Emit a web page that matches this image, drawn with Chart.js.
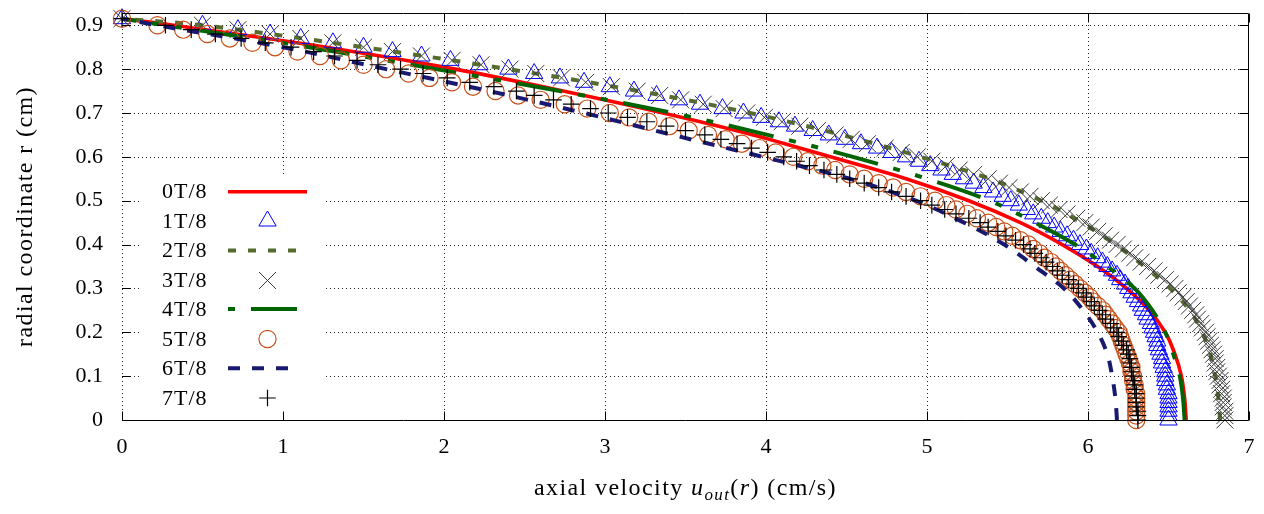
<!DOCTYPE html>
<html>
<head>
<meta charset="utf-8">
<script src="https://cdn.jsdelivr.net/npm/chart.js@4/dist/chart.umd.min.js"></script>
<style>
  html, body { margin: 0; padding: 0; background: #fff; }
  #wrap { width: 1264px; height: 514px; }
</style>
</head>
<body>
<div id="wrap"><canvas id="c" width="1264" height="514"></canvas></div>
<script>
// Phase labels of the eight profiles
const phaseLabels = ['0T/8', '1T/8', '2T/8', '3T/8', '4T/8', '5T/8', '6T/8', '7T/8'];

// Radial positions (cm): fine grid for the marker profiles, coarse grid for the line profiles
const rFine = [0.00, 0.01, 0.02, 0.03, 0.04, 0.05, 0.06, 0.07, 0.08, 0.09,
  0.10, 0.11, 0.12, 0.13, 0.14, 0.15, 0.16, 0.17, 0.18, 0.19,
  0.20, 0.21, 0.22, 0.23, 0.24, 0.25, 0.26, 0.27, 0.28, 0.29,
  0.30, 0.31, 0.32, 0.33, 0.34, 0.35, 0.36, 0.37, 0.38, 0.39,
  0.40, 0.41, 0.42, 0.43, 0.44, 0.45, 0.46, 0.47, 0.48, 0.49,
  0.50, 0.51, 0.52, 0.53, 0.54, 0.55, 0.56, 0.57, 0.58, 0.59,
  0.60, 0.61, 0.62, 0.63, 0.64, 0.65, 0.66, 0.67, 0.68, 0.69,
  0.70, 0.71, 0.72, 0.73, 0.74, 0.75, 0.76, 0.77, 0.78, 0.79,
  0.80, 0.81, 0.82, 0.83, 0.84, 0.85, 0.86, 0.87, 0.88, 0.89,
  0.90, 0.915];
const rCoarse = [0.00, 0.05, 0.10, 0.15, 0.20, 0.25, 0.30, 0.35, 0.40, 0.45,
  0.50, 0.55, 0.60, 0.65, 0.70, 0.75, 0.80, 0.85, 0.90, 0.915];

// Axial velocity u_out(r) in cm/s
const u0T8 = [6.61, 6.60, 6.58, 6.54, 6.48, 6.38, 6.24, 6.06, 5.84, 5.58,
  5.26, 4.87, 4.40, 3.92, 3.36, 2.74, 2.07, 1.27, 0.32, 0];
const u2T8 = [6.82, 6.81, 6.79, 6.76, 6.71, 6.63, 6.51, 6.35, 6.17, 5.96,
  5.71, 5.39, 4.96, 4.47, 3.90, 3.21, 2.40, 1.50, 0.50, 0];
const u4T8 = [6.60, 6.59, 6.57, 6.53, 6.48, 6.40, 6.29, 6.12, 5.92, 5.67,
  5.39, 5.00, 4.54, 4.01, 3.42, 2.72, 1.95, 1.16, 0.27, 0];
const u6T8 = [6.18, 6.17, 6.15, 6.12, 6.06, 5.97, 5.85, 5.67, 5.48, 5.23,
  4.93, 4.52, 3.98, 3.42, 2.87, 2.28, 1.64, 1.00, 0.22, 0];

const u1T8 = [6.50, 6.50, 6.50, 6.50, 6.50, 6.50,
  6.50, 6.49, 6.49, 6.48, 6.48,
  6.48, 6.47, 6.46, 6.46, 6.45,
  6.44, 6.43, 6.43, 6.42, 6.41,
  6.40, 6.39, 6.37, 6.36, 6.34,
  6.33, 6.31, 6.29, 6.27, 6.25,
  6.23, 6.20, 6.18, 6.15, 6.12,
  6.09, 6.06, 6.02, 5.99, 5.95,
  5.91, 5.87, 5.83, 5.79, 5.75,
  5.71, 5.66, 5.62, 5.57, 5.52,
  5.47, 5.41, 5.35, 5.29, 5.23,
  5.16, 5.09, 5.02, 4.95, 4.87,
  4.78, 4.69, 4.59, 4.49, 4.39,
  4.29, 4.18, 4.08, 3.97, 3.86,
  3.73, 3.59, 3.46, 3.32, 3.18,
  3.03, 2.87, 2.72, 2.56, 2.40,
  2.22, 2.04, 1.86, 1.68, 1.50,
  1.31, 1.11, 0.92, 0.72, 0.50,
  0];
const u3T8 = [6.85, 6.85, 6.85, 6.84, 6.84, 6.84,
  6.83, 6.83, 6.82, 6.82, 6.81,
  6.80, 6.80, 6.79, 6.79, 6.78,
  6.77, 6.76, 6.75, 6.74, 6.73,
  6.71, 6.70, 6.68, 6.67, 6.65,
  6.63, 6.61, 6.59, 6.56, 6.54,
  6.51, 6.48, 6.44, 6.41, 6.37,
  6.33, 6.29, 6.26, 6.22, 6.18,
  6.14, 6.10, 6.06, 6.02, 5.98,
  5.93, 5.87, 5.82, 5.76, 5.71,
  5.64, 5.58, 5.51, 5.45, 5.38,
  5.29, 5.20, 5.12, 5.03, 4.94,
  4.84, 4.74, 4.63, 4.53, 4.43,
  4.32, 4.21, 4.10, 3.99, 3.88,
  3.74, 3.61, 3.47, 3.34, 3.20,
  3.04, 2.88, 2.73, 2.57, 2.41,
  2.23, 2.05, 1.86, 1.68, 1.50,
  1.31, 1.11, 0.92, 0.72, 0.50,
  0];
const u5T8 = [6.30, 6.30, 6.30, 6.30, 6.30, 6.30,
  6.30, 6.29, 6.29, 6.28, 6.28,
  6.27, 6.27, 6.26, 6.25, 6.24,
  6.23, 6.22, 6.21, 6.20, 6.19,
  6.17, 6.15, 6.13, 6.11, 6.09,
  6.06, 6.03, 6.01, 5.98, 5.95,
  5.92, 5.89, 5.86, 5.83, 5.80,
  5.77, 5.73, 5.70, 5.66, 5.63,
  5.58, 5.53, 5.48, 5.43, 5.38,
  5.31, 5.25, 5.18, 5.12, 5.05,
  4.96, 4.87, 4.79, 4.70, 4.61,
  4.52, 4.43, 4.35, 4.26, 4.17,
  4.06, 3.96, 3.85, 3.75, 3.64,
  3.52, 3.40, 3.27, 3.15, 3.03,
  2.89, 2.75, 2.60, 2.46, 2.32,
  2.18, 2.05, 1.91, 1.78, 1.64,
  1.50, 1.36, 1.23, 1.09, 0.95,
  0.81, 0.67, 0.53, 0.38, 0.22,
  0];
const u7T8 = [6.31, 6.31, 6.31, 6.30, 6.30, 6.30,
  6.30, 6.29, 6.29, 6.28, 6.28,
  6.27, 6.27, 6.26, 6.26, 6.25,
  6.24, 6.22, 6.21, 6.19, 6.18,
  6.16, 6.14, 6.11, 6.09, 6.07,
  6.04, 6.02, 5.99, 5.97, 5.94,
  5.91, 5.88, 5.84, 5.81, 5.78,
  5.74, 5.71, 5.67, 5.64, 5.60,
  5.55, 5.49, 5.44, 5.38, 5.33,
  5.26, 5.18, 5.11, 5.03, 4.96,
  4.87, 4.78, 4.70, 4.61, 4.52,
  4.44, 4.36, 4.27, 4.19, 4.11,
  4.01, 3.91, 3.82, 3.72, 3.62,
  3.50, 3.38, 3.26, 3.14, 3.02,
  2.91, 2.79, 2.68, 2.56, 2.45,
  2.31, 2.16, 2.02, 1.87, 1.73,
  1.59, 1.46, 1.32, 1.19, 1.05,
  0.89, 0.74, 0.58, 0.43, 0.27,
  0];

// Axis ticks
const xTicks = [0, 1, 2, 3, 4, 5, 6, 7];
const xTickLabels = ['0', '1', '2', '3', '4', '5', '6', '7'];
const yTicks = [0, 0.1, 0.2, 0.3, 0.4, 0.5, 0.6, 0.7, 0.8, 0.9];
const yTickLabels = ['0', '0.1', '0.2', '0.3', '0.4', '0.5', '0.6', '0.7', '0.8', '0.9'];

const SERIF = "'Liberation Serif', 'Times New Roman', serif";

function pairs(us, rs) { return us.map((u, i) => ({ x: u, y: rs[i] })); }

// Appearance of each profile (line or marker)
const styles = [
  { kind: 'line', color: '#ff0000', width: 3.6, dash: [] },
  { kind: 'point', color: '#0000ff', pointStyle: 'triangle', radius: 10, width: 1 },
  { kind: 'line', color: '#556b2f', width: 4, dash: [8, 12] },
  { kind: 'point', color: '#3a3a3a', pointStyle: 'crossRot', radius: 12, width: 1 },
  { kind: 'line', color: '#006400', width: 4, dash: [46, 16, 7, 16, 7, 16], legendOffset: 85 },
  { kind: 'point', color: '#c8501a', pointStyle: 'circle', radius: 8.6, width: 1.2 },
  { kind: 'line', color: '#191970', width: 4, dash: [12, 12], legendEnd: 299 },
  { kind: 'point', color: '#000000', pointStyle: 'cross', radius: 8.3, width: 1.2 }
];

const profiles = [
  pairs(u0T8, rCoarse), pairs(u1T8, rFine), pairs(u2T8, rCoarse), pairs(u3T8, rFine),
  pairs(u4T8, rCoarse), pairs(u5T8, rFine), pairs(u6T8, rCoarse), pairs(u7T8, rFine)
];

const datasets = profiles.map((pts, i) => {
  const s = styles[i];
  const base = { label: phaseLabels[i], data: pts, clip: false, order: 8 - i };
  if (s.kind === 'line') {
    return Object.assign(base, {
      showLine: true, borderColor: s.color, borderWidth: s.width, borderDash: s.dash,
      tension: 0.35, pointRadius: 0, pointHoverRadius: 0, fill: false
    });
  }
  return Object.assign(base, {
    showLine: false, pointStyle: s.pointStyle, pointRadius: s.radius, pointHoverRadius: s.radius,
    pointBorderColor: s.color, pointBackgroundColor: 'rgba(0,0,0,0)', pointBorderWidth: s.width
  });
});

// Dotted grid behind the profiles
const gridPlugin = {
  id: 'dottedGrid',
  beforeDatasetsDraw(chart) {
    const { ctx, chartArea: a, scales: { x, y } } = chart;
    ctx.save();
    ctx.strokeStyle = 'rgba(0,0,0,0.85)';
    ctx.lineWidth = 1;
    ctx.setLineDash([1, 3]);
    xTicks.forEach(v => {
      if (v >= x.max) return;
      const px = Math.round(x.getPixelForValue(v)) + 0.5;
      ctx.beginPath(); ctx.moveTo(px, a.top); ctx.lineTo(px, a.bottom); ctx.stroke();
    });
    yTicks.forEach(v => {
      if (v <= y.min) return;
      const py = Math.round(y.getPixelForValue(v)) + 0.5;
      ctx.beginPath(); ctx.moveTo(a.left, py); ctx.lineTo(a.right, py); ctx.stroke();
    });
    ctx.restore();
  }
};

function markerAt(ctx, s, x, y) {
  ctx.save();
  ctx.strokeStyle = s.color;
  ctx.fillStyle = 'rgba(0,0,0,0)';
  ctx.lineWidth = s.width;
  if (Chart.helpers && Chart.helpers.drawPoint) {
    Chart.helpers.drawPoint(ctx, { pointStyle: s.pointStyle, radius: s.radius, borderWidth: s.width, rotation: 0 }, x, y);
  }
  ctx.restore();
}

function drawRuns(ctx, runs, cx, baseline) {
  let total = 0;
  runs.forEach(r => { ctx.font = r.font; r.w = ctx.measureText(r.t).width; total += r.w; });
  let x = cx - total / 2;
  runs.forEach(r => { ctx.font = r.font; ctx.fillText(r.t, x, baseline + (r.dy || 0)); x += r.w; });
}

// Key, border, inward ticks and axis titles
const framePlugin = {
  id: 'frameAndKey',
  afterDatasetsDraw(chart) {
    const { ctx, chartArea: a, scales: { x, y } } = chart;
    ctx.save();
    if ('letterSpacing' in ctx) ctx.letterSpacing = '1px';

    // key box
    ctx.fillStyle = '#ffffff';
    ctx.fillRect(140, 177, 183, 236);
    const rows = [191.7, 221, 250.5, 280.5, 309, 339, 368.3, 398];
    ctx.fillStyle = '#000';
    ctx.textAlign = 'left';
    ctx.textBaseline = 'middle';
    ctx.font = '22px ' + SERIF;
    phaseLabels.forEach((lab, i) => {
      const yy = rows[i];
      ctx.fillText(lab, 162, yy + 1);
      const s = styles[i];
      if (s.kind === 'line') {
        ctx.save();
        ctx.strokeStyle = s.color;
        ctx.lineWidth = s.width;
        ctx.setLineDash(s.dash);
        ctx.lineDashOffset = s.legendOffset || 0;
        ctx.beginPath();
        ctx.moveTo(228, yy);
        ctx.lineTo(s.legendEnd || 307, yy);
        ctx.stroke();
        ctx.restore();
      } else {
        markerAt(ctx, s, 267.5, yy);
      }
    });

    // border (top, right, bottom)
    ctx.strokeStyle = '#000';
    ctx.lineWidth = 1;
    ctx.setLineDash([]);
    const L = a.left, R = Math.round(a.right) - 0.5, T = Math.round(a.top) + 0.5, B = Math.round(a.bottom) + 0.5;
    ctx.beginPath();
    ctx.moveTo(L, T); ctx.lineTo(R, T); ctx.lineTo(R, B); ctx.lineTo(L, B);
    ctx.stroke();

    // inward tick marks on all sides
    const tick = 9;
    ctx.beginPath();
    xTicks.forEach(v => {
      const px = Math.round(x.getPixelForValue(v)) + 0.5;
      ctx.moveTo(px, B); ctx.lineTo(px, B - tick);
      ctx.moveTo(px, T); ctx.lineTo(px, T + tick);
    });
    yTicks.forEach(v => {
      const py = Math.round(y.getPixelForValue(v)) + 0.5;
      ctx.moveTo(L, py); ctx.lineTo(L + tick, py);
      ctx.moveTo(R, py); ctx.lineTo(R - tick, py);
    });
    ctx.stroke();

    // axis titles
    ctx.fillStyle = '#000';
    ctx.textBaseline = 'alphabetic';
    ctx.textAlign = 'left';
    if ('letterSpacing' in ctx) ctx.letterSpacing = '1.4px';
    const N = '24px ' + SERIF, I = 'italic 24px ' + SERIF, S = 'italic 17px ' + SERIF;
    drawRuns(ctx, [
      { t: 'axial velocity ', font: N },
      { t: 'u', font: I },
      { t: 'out', font: S, dy: 5 },
      { t: '(', font: N },
      { t: 'r', font: I },
      { t: ')', font: N },
      { t: ' (cm/s)', font: N }
    ], (a.left + a.right) / 2, 495);

    ctx.save();
    ctx.translate(26, (a.top + a.bottom) / 2);
    ctx.rotate(-Math.PI / 2);
    ctx.textAlign = 'center';
    ctx.textBaseline = 'middle';
    ctx.font = N;
    ctx.fillText('radial coordinate r (cm)', 0, 0);
    ctx.restore();

    ctx.restore();
  }
};

new Chart(document.getElementById('c'), {
  type: 'scatter',
  data: { datasets },
  options: {
    responsive: false,
    animation: false,
    events: [],
    devicePixelRatio: 1,
    layout: { padding: { top: 10, right: 15, bottom: 0, left: 0 } },
    plugins: { legend: { display: false }, tooltip: { enabled: false }, title: { display: false } },
    scales: {
      x: {
        type: 'linear', position: 'bottom', min: 0, max: 7,
        afterBuildTicks: s => { s.ticks = xTicks.map(v => ({ value: v })); },
        afterFit: s => { s.height = 94; s.paddingLeft = 0; s.paddingRight = 0; },
        grid: { display: false, drawTicks: false },
        border: { display: false },
        ticks: {
          color: '#000', padding: 14, maxRotation: 0, minRotation: 0, autoSkip: false,
          font: { family: SERIF, size: 22 },
          callback: (v, i) => xTickLabels[i]
        }
      },
      y: {
        type: 'linear', position: 'left', min: 0, max: 0.928,
        afterBuildTicks: s => { s.ticks = yTicks.map(v => ({ value: v })); },
        afterFit: s => { s.width = 122; s.paddingTop = 0; s.paddingBottom = 0; },
        grid: { display: false, drawTicks: false },
        border: { display: false },
        ticks: {
          color: '#000', padding: 19, autoSkip: false,
          font: { family: SERIF, size: 22 },
          callback: (v, i) => yTickLabels[i]
        }
      }
    }
  },
  plugins: [gridPlugin, framePlugin]
});
</script>
</body>
</html>
